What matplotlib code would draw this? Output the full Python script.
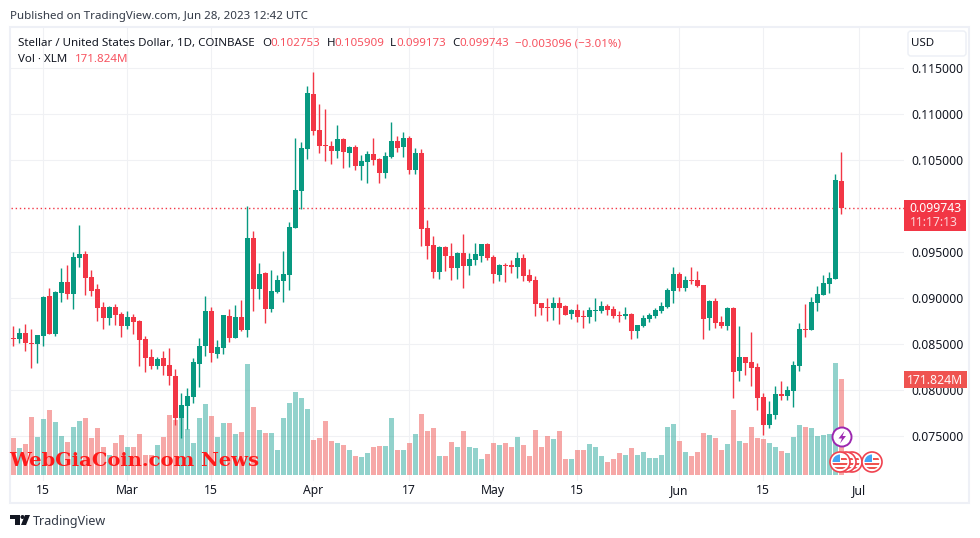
import matplotlib
matplotlib.use('Agg')
import matplotlib.pyplot as plt
from matplotlib.patches import Rectangle, Circle, Polygon, FancyBboxPatch
import numpy as np

plt.rcParams['font.family'] = ['Noto Sans', 'DejaVu Sans']

# Data: daily XLM/USD candles (prices in thousandths of a dollar, volume in millions)
opens = [85.66, 85.54, 86.20, 85.11, 85.00, 85.87, 90.22, 86.09, 90.54, 91.74,
         90.44, 94.35, 94.78, 92.28, 90.98, 89.02, 87.83, 89.02, 88.26, 86.96,
         87.94, 87.50, 85.54, 83.59, 82.60, 83.48, 82.72, 81.52, 76.95, 78.26,
         79.24, 82.82, 84.78, 88.59, 83.91, 84.57, 88.04, 85.66, 87.94, 86.52,
         96.52, 90.98, 92.72, 88.80, 90.65, 91.85, 92.50, 97.61, 101.63, 106.20,
         112.17, 108.26, 106.63, 106.52, 105.98, 107.28, 105.76, 106.41, 104.35, 104.78,
         105.65, 105.11, 103.59, 105.33, 107.07, 106.41, 107.39, 103.91, 105.76, 97.61,
         95.76, 92.83, 95.55, 94.57, 93.26, 94.89, 93.48, 94.13, 94.57, 95.87,
         94.46, 92.50, 93.59, 93.59, 93.37, 94.35, 92.50, 91.96, 89.46, 89.02,
         88.92, 89.46, 89.13, 88.26, 88.70, 88.05, 87.94, 88.59, 88.59, 89.13,
         88.81, 88.15, 88.05, 88.26, 86.42, 86.96, 87.72, 88.05, 88.59, 89.02,
         90.76, 92.61, 91.09, 91.96, 91.96, 91.41, 87.82, 89.67, 87.39, 86.95,
         88.91, 82.06, 83.58, 83.04, 82.50, 79.24, 76.19, 77.28, 79.56, 79.35,
         79.89, 82.61, 86.63, 86.52, 89.45, 90.32, 91.52, 92.06, 102.75]
highs = [86.96, 86.74, 87.18, 86.63, 86.00, 90.22, 91.09, 90.76, 93.26, 93.59,
         95.00, 97.94, 95.11, 93.04, 91.52, 89.57, 89.10, 89.35, 88.48, 88.59,
         88.26, 87.60, 85.87, 84.46, 83.59, 84.24, 84.57, 82.28, 79.67, 80.20,
         83.48, 85.66, 90.22, 89.02, 85.43, 88.15, 88.81, 89.24, 89.78, 100.00,
         97.28, 93.80, 92.82, 93.04, 92.50, 95.10, 98.23, 107.39, 106.96, 113.04,
         114.57, 111.09, 110.54, 107.07, 108.80, 107.39, 106.52, 106.63, 105.54, 105.98,
         107.39, 105.22, 105.87, 109.13, 107.61, 108.04, 107.61, 106.30, 106.20, 98.48,
         96.74, 95.65, 95.65, 95.98, 95.00, 96.96, 94.89, 95.98, 95.87, 95.98,
         94.68, 93.70, 93.80, 94.13, 95.00, 94.78, 93.15, 92.39, 89.46, 90.00,
         90.11, 90.11, 89.24, 88.81, 89.35, 88.70, 89.02, 90.00, 89.68, 89.35,
         89.13, 88.59, 89.02, 88.37, 87.07, 88.15, 88.37, 88.92, 89.57, 91.09,
         93.37, 92.83, 92.39, 93.37, 92.94, 91.41, 89.78, 90.00, 88.04, 89.02,
         89.02, 86.95, 83.58, 86.30, 82.93, 79.67, 78.80, 80.43, 80.97, 80.43,
         83.15, 87.28, 89.35, 90.11, 91.30, 92.50, 92.82, 103.47, 105.91]
lows = [84.78, 85.07, 84.24, 82.39, 82.93, 84.78, 86.09, 85.87, 89.57, 89.89,
        88.80, 93.37, 90.33, 90.22, 87.50, 86.63, 87.07, 87.07, 85.76, 86.63,
        86.09, 82.60, 81.95, 82.28, 82.28, 81.63, 80.54, 76.20, 74.78, 75.76,
        78.60, 80.30, 83.73, 83.00, 83.48, 83.91, 85.22, 85.66, 86.41, 85.76,
        88.59, 89.89, 87.28, 88.48, 90.54, 89.56, 90.87, 97.61, 99.67, 105.10,
        107.72, 105.76, 104.89, 104.57, 105.22, 104.13, 104.24, 103.91, 102.83, 102.50,
        104.46, 102.50, 103.05, 105.22, 105.87, 105.33, 103.48, 103.48, 95.65, 94.24,
        92.18, 92.07, 92.94, 91.96, 92.07, 91.09, 92.50, 93.59, 93.91, 94.13,
        91.63, 91.85, 91.74, 92.72, 92.18, 91.85, 91.74, 88.05, 88.15, 87.50,
        87.61, 87.18, 88.15, 87.72, 87.39, 86.74, 87.28, 87.50, 88.37, 88.15,
        87.83, 87.39, 87.72, 85.55, 85.65, 86.85, 87.39, 87.83, 88.37, 88.92,
        89.46, 90.76, 90.76, 91.52, 91.20, 85.55, 86.52, 86.74, 86.74, 86.52,
        79.13, 80.97, 81.63, 80.43, 77.82, 75.11, 75.87, 76.85, 78.91, 78.91,
        78.15, 82.06, 85.76, 86.52, 88.58, 90.32, 90.54, 92.06, 99.17]
closes = [85.58, 86.20, 85.11, 85.00, 85.98, 90.11, 86.09, 90.65, 91.74, 90.44,
          94.46, 94.78, 92.18, 90.76, 88.91, 87.83, 89.02, 88.15, 86.96, 87.94,
          87.39, 85.43, 83.48, 82.60, 83.37, 82.60, 81.52, 76.95, 78.37, 79.35,
          83.04, 84.78, 88.59, 84.00, 84.67, 88.15, 85.66, 87.94, 86.52, 96.52,
          90.98, 92.61, 88.80, 90.76, 91.96, 92.61, 97.72, 101.74, 106.30, 112.28,
          108.15, 106.52, 106.52, 105.98, 107.28, 105.87, 106.41, 104.35, 104.89, 105.65,
          105.00, 103.59, 105.44, 107.07, 106.30, 107.39, 103.91, 105.76, 97.50, 95.65,
          92.83, 95.55, 94.57, 93.26, 94.89, 93.48, 94.24, 94.78, 95.87, 94.35,
          92.61, 93.59, 93.48, 93.37, 94.35, 92.39, 91.85, 89.35, 88.92, 88.92,
          89.46, 88.92, 88.15, 88.70, 87.94, 87.94, 88.70, 88.70, 89.13, 88.70,
          88.05, 88.05, 88.26, 86.42, 87.07, 87.83, 88.15, 88.70, 89.13, 90.87,
          92.61, 91.09, 91.96, 91.85, 91.31, 87.72, 89.67, 87.28, 86.95, 88.91,
          81.95, 83.58, 82.93, 82.39, 79.13, 76.19, 77.39, 79.56, 79.35, 80.00,
          82.71, 86.63, 86.52, 89.56, 90.43, 91.63, 92.17, 102.82, 99.74]
volume = [66, 48, 55, 104, 68, 100, 116, 95, 70, 59,
          86, 97, 102, 66, 84, 50, 36, 57, 72, 50,
          50, 73, 36, 36, 54, 68, 107, 98, 102, 82,
          57, 102, 127, 106, 68, 93, 93, 73, 77, 199,
          122, 81, 75, 75, 45, 102, 129, 149, 138, 118,
          63, 66, 97, 61, 57, 54, 45, 34, 32, 39,
          50, 52, 52, 102, 45, 45, 57, 73, 109, 79,
          84, 34, 34, 59, 50, 79, 50, 48, 29, 38,
          57, 54, 57, 50, 68, 54, 34, 81, 50, 70,
          64, 79, 29, 29, 45, 45, 55, 50, 34, 23,
          29, 39, 36, 48, 36, 41, 30, 30, 36, 86,
          91, 61, 41, 34, 41, 75, 72, 66, 45, 55,
          116, 61, 57, 86, 66, 64, 57, 50, 43, 39,
          68, 89, 86, 84, 70, 72, 73, 200, 171.824]

date_ticks = [5, 19, 33, 50, 66, 80, 94, 111, 125, 141]
date_labels = ['15', 'Mar', '15', 'Apr', '17', 'May', '15', 'Jun', '15', 'Jul']
price_ticks = [0.075, 0.080, 0.085, 0.090, 0.095, 0.105, 0.110, 0.115]
last_price = 0.099743
last_volume = 171.824

GREEN = '#089981'
RED = '#f23645'
VOL_GREEN = '#26a69a'
VOL_RED = '#ef5350'
GRID = '#f0f1f4'
TEXT = '#131722'

o = np.array(opens) / 1000
h = np.array(highs) / 1000
l = np.array(lows) / 1000
c = np.array(closes) / 1000
days = np.arange(len(o))
up = c >= o
colors = np.where(up, GREEN, RED)
vol_colors = np.where(up, VOL_GREEN, VOL_RED)

fig = plt.figure(figsize=(9.8, 5.38), dpi=100)
W, H = 980, 538
left, right, top, bottom = 11, 904, 28, 481
rect = [left / W, 1 - bottom / H, (right - left) / W, (bottom - top) / H]

xlim = (-0.383, 148.45)
ylim = (0.07011, 0.11935)

# Grid and axis labels
ax = fig.add_axes(rect, zorder=1)
ax.set_xlim(xlim)
ax.set_ylim(ylim)
ax.set_xticks(date_ticks, date_labels)
ax.set_yticks(price_ticks, ['%.6f' % p for p in price_ticks])
ax.yaxis.tick_right()
ax.tick_params(length=0, labelsize=8.8, colors=TEXT, pad=5.5)
ax.tick_params(axis='x', pad=2)
ax.grid(True, color=GRID, linewidth=0.8)
ax.set_axisbelow(True)
for s in ax.spines.values():
    s.set_visible(False)

# Volume bars
ax_vol = fig.add_axes(rect, zorder=2, sharex=ax)
ax_vol.patch.set_visible(False)
ax_vol.bar(days, volume, width=0.83, color=vol_colors, alpha=0.5, linewidth=0)
ax_vol.set_ylim(-10.74, 800.13)
ax_vol.axis('off')

# Candles
ax_c = fig.add_axes(rect, zorder=3, sharex=ax)
ax_c.patch.set_visible(False)
ax_c.axhline(last_price, color=RED, linewidth=1, linestyle=(0, (1, 2)), zorder=1)
ax_c.vlines(days, l, h, colors=colors, linewidth=1.0, zorder=2)
ax_c.bar(days, np.abs(c - o), bottom=np.minimum(o, c), width=0.83, color=colors, linewidth=0, zorder=3)
ax_c.set_ylim(ylim)
ax_c.axis('off')
ax_c.set_xlim(xlim)

# Everything around the chart, placed in picture pixels
ov = fig.add_axes([0, 0, 1, 1], zorder=5)
ov.set_xlim(0, W)
ov.set_ylim(H, 0)
ov.axis('off')
ov.patch.set_visible(False)

ov.add_patch(Rectangle((10, 27), 959, 476, fill=False, edgecolor='#eef0f6', linewidth=1.5))

ov.text(10, 16.5, 'Published on TradingView.com, Jun 28, 2023 12:42 UTC', fontsize=8.3, color='#333a47', va='center')

# Legend rows
ov.text(18, 43.5, 'Stellar / United States Dollar, 1D, COINBASE', fontsize=8.3, color=TEXT, va='center')
legend_red = '#f7525f'
for xp, lab in [(262, 'O'), (327, 'H'), (390, 'L'), (452, 'C')]:
    ov.text(xp, 43.5, lab, fontsize=8.3, color=TEXT, va='center')
for xp, lab in [(270, '0.102753'), (334, '0.105909'), (396, '0.099173'), (459, '0.099743'),
                (515, '\u22120.003096 (\u22123.01%)')]:
    ov.text(xp, 43.5, lab, fontsize=8.3, color=legend_red, va='center')
ov.text(18, 59.5, 'Vol \u00b7 XLM', fontsize=8.3, color=TEXT, va='center')
ov.text(75, 59.5, '171.824M', fontsize=8.3, color=legend_red, va='center')

# Currency button
ov.add_patch(FancyBboxPatch((910, 33), 54, 21, boxstyle='round,pad=2,rounding_size=3',
                            facecolor='white', edgecolor='#eceff5', linewidth=1))
ov.text(911, 43.5, 'USD', fontsize=8.3, color=TEXT, va='center')

# Last price and volume labels
ov.add_patch(Rectangle((904, 200), 62, 31, facecolor=RED, edgecolor='none'))
ov.text(961, 209, '0.099743', fontsize=8.8, fontweight='bold', color='white', va='center', ha='right')
ov.text(958, 223, '11:17:13', fontsize=8.8, color='#fcd7da', va='center', ha='right')
ov.add_patch(Rectangle((904, 371), 63, 17, facecolor='#ef5350', edgecolor='none'))
ov.text(963, 380, '171.824M', fontsize=8.8, fontweight='bold', color='white', va='center', ha='right', alpha=0.95)

# Watermark
ov.text(9, 460.5, 'WebGiaCoin.com News', fontsize=14, fontweight='bold', family='DejaVu Serif',
        color='#ff1a1a', va='center')


def flag(xc, yc, z):
    ov.add_patch(Circle((xc, yc), 10, facecolor='white', edgecolor='#f0424f', linewidth=1.2, zorder=z))
    clip = Circle((xc, yc), 7.5, transform=ov.transData)
    for ys in (yc + 1, yc + 5):
        r = ov.add_patch(Rectangle((xc - 8, ys), 16, 2.2, facecolor='#ef5350', edgecolor='none', zorder=z + 0.1))
        r.set_clip_path(clip)
    r = ov.add_patch(Rectangle((xc + 1, yc - 4), 8, 2, facecolor='#ef5350', edgecolor='none', zorder=z + 0.1))
    r.set_clip_path(clip)
    r = ov.add_patch(Rectangle((xc - 8, yc - 8), 8, 8, facecolor='#42a5f5', edgecolor='none', zorder=z + 0.2))
    r.set_clip_path(clip)


# Event markers
for z, xc in enumerate((852, 846, 840)):
    flag(xc, 462, 4 + z)
flag(872, 462, 4)
ov.add_patch(Circle((842, 437), 9.5, facecolor='white', edgecolor='#9c27b0', linewidth=1.4, zorder=8))
ov.add_patch(Polygon([(844.5, 431), (838.5, 438.5), (842, 438.5), (840, 443.5), (846, 436), (842.5, 436)],
                     facecolor='#9c27b0', edgecolor='none', zorder=9))

# TradingView logo
ov.add_patch(Rectangle((10, 515), 9.5, 4, facecolor=TEXT, edgecolor='none'))
ov.add_patch(Rectangle((14.5, 515), 5, 10, facecolor=TEXT, edgecolor='none'))
ov.add_patch(Circle((22.5, 517), 2, facecolor=TEXT, edgecolor='none'))
ov.add_patch(Polygon([(25, 515), (30, 515), (26, 525), (21, 525)], facecolor=TEXT, edgecolor='none'))
ov.text(33, 521, 'TradingView', fontsize=9, color='#333a47', va='center')

fig.savefig('out.png', dpi=100)
